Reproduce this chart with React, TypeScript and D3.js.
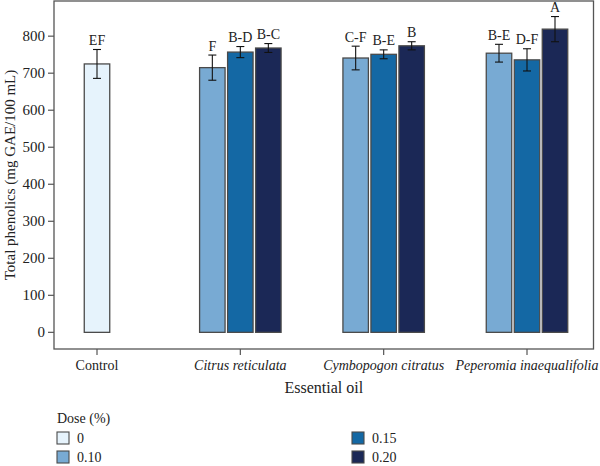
import * as d3 from "d3";

// essential oil groups along x, dose levels used for the fill
const oils = ["Control", "Citrus reticulata", "Cymbopogon citratus", "Peperomia inaequalifolia"];
const doses = ["0", "0.10", "0.15", "0.20"];
const doseColors = ["#e6f3fc", "#78aad3", "#1468a4", "#1b2856"];

// one entry per bar
const barOil = [0, 1, 1, 1, 2, 2, 2, 3, 3, 3];
const barDose = [0, 1, 2, 3, 1, 2, 3, 1, 2, 3];
const barMean = [725, 715, 757, 768, 741, 751, 774, 754, 736, 819];
const barErr = [39, 34, 15, 12, 32, 12, 11, 24, 30, 34];
const barLetters = ["EF", "F", "B-D", "B-C", "C-F", "B-E", "B", "B-E", "D-F", "A"];

const yTicks = [0, 100, 200, 300, 400, 500, 600, 700, 800];

const W = 600;
const H = 466;
const panel = { left: 54, right: 593.5, top: 1, bottom: 349 };
const serif = { fontFamily: "'Liberation Serif', serif" };

export default function App() {
  const y = d3.scaleLinear().domain([-45, 895]).range([panel.bottom, panel.top]);
  const x = d3.scalePoint<number>().domain(d3.range(oils.length)).range([97, 527]);
  const pitch = 28;

  // inner dodge scale per group, so Control's single bar sits on its tick
  const inner = oils.map((_, g) => {
    const ds = barDose.filter((_, i) => barOil[i] === g);
    return d3
      .scaleBand<number>()
      .domain(ds)
      .range([(-ds.length * pitch) / 2, (ds.length * pitch) / 2])
      .paddingInner(0.09)
      .paddingOuter(0.045);
  });

  const legendCols = [57, 352];
  const legendRows = [432, 451];

  return (
    <svg
      width={W}
      height={H}
      style={{ position: "absolute", left: 0, top: 0, background: "#fff", ...serif }}
    >
      {/* panel frame */}
      <rect
        x={panel.left}
        y={panel.top}
        width={panel.right - panel.left}
        height={panel.bottom - panel.top}
        fill="none"
        stroke="#555"
        strokeWidth={1.3}
      />

      {/* y axis */}
      {yTicks.map((t) => (
        <g key={t} transform={`translate(0,${y(t)})`}>
          <line x1={panel.left - 6} x2={panel.left} stroke="#555" strokeWidth={1.2} />
          <text x={panel.left - 9} dy="0.34em" textAnchor="end" fontSize={15} fill="#222" style={serif}>
            {t}
          </text>
        </g>
      ))}
      <text
        transform={`translate(15,${(panel.top + panel.bottom) / 2}) rotate(-90)`}
        textAnchor="middle"
        fontSize={15}
        fill="#222"
        style={serif}
      >
        Total phenolics (mg GAE/100 mL)
      </text>

      {/* x axis */}
      {oils.map((o, g) => (
        <g key={o} transform={`translate(${x(g)},0)`}>
          <line y1={panel.bottom} y2={panel.bottom + 6} stroke="#555" strokeWidth={1.2} />
          <text
            y={panel.bottom + 21}
            textAnchor="middle"
            fontSize={14}
            fontStyle={g === 0 ? "normal" : "italic"}
            fill="#222"
            style={serif}
          >
            {o}
          </text>
        </g>
      ))}
      <text
        x={(panel.left + panel.right) / 2}
        y={393}
        textAnchor="middle"
        fontSize={16}
        fill="#222"
        style={serif}
      >
        Essential oil
      </text>

      {/* bars, error bars and letter groups */}
      {barMean.map((m, i) => {
        const g = barOil[i];
        const sc = inner[g];
        const bx = (x(g) as number) + (sc(barDose[i]) as number);
        const bw = sc.bandwidth();
        const cx = bx + bw / 2;
        const hi = y(m + barErr[i]);
        const lo = y(m - barErr[i]);
        return (
          <g key={i}>
            <rect
              x={bx}
              y={y(m)}
              width={bw}
              height={y(0) - y(m)}
              fill={doseColors[barDose[i]]}
              stroke="#4a4a4a"
              strokeWidth={1.3}
            />
            <g stroke="#111" strokeWidth={1.1}>
              <line x1={cx} x2={cx} y1={hi} y2={lo} />
              <line x1={cx - 4} x2={cx + 4} y1={hi} y2={hi} />
              <line x1={cx - 4} x2={cx + 4} y1={lo} y2={lo} />
            </g>
            <text x={cx} y={hi - 4.5} textAnchor="middle" fontSize={14} fill="#222" style={serif}>
              {barLetters[i]}
            </text>
          </g>
        );
      })}

      {/* legend */}
      <text x={57} y={423} fontSize={14} fill="#222" style={serif}>
        Dose (%)
      </text>
      {doses.map((d, k) => {
        const lx = legendCols[Math.floor(k / 2)];
        const ly = legendRows[k % 2];
        return (
          <g key={d}>
            <rect x={lx} y={ly} width={12} height={12} fill={doseColors[k]} stroke="#4a4a4a" strokeWidth={1.1} />
            <text x={lx + 20} y={ly + 11} fontSize={14} fill="#222" style={serif}>
              {d}
            </text>
          </g>
        );
      })}
    </svg>
  );
}
